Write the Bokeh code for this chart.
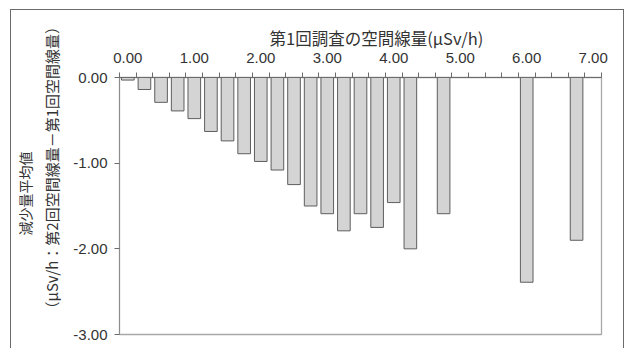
from bokeh.plotting import figure
from bokeh.models import (Range1d, FixedTicker, NumeralTickFormatter, Title,
                          ColumnDataSource)
from bokeh.embed import file_html
from bokeh.resources import INLINE

# ---- data ----
bin_centers = [0.00, 0.25, 0.50, 0.75, 1.00, 1.25, 1.50, 1.75, 2.00, 2.25,
               2.50, 2.75, 3.00, 3.25, 3.50, 3.75, 4.00, 4.25, 4.75, 6.00, 6.75]
decrease = [-0.03, -0.14, -0.29, -0.39, -0.48, -0.63, -0.74, -0.89, -0.98, -1.08,
            -1.25, -1.50, -1.59, -1.79, -1.59, -1.75, -1.46, -2.00, -1.59, -2.39, -1.90]
x_major = [0, 1, 2, 3, 4, 5, 6, 7]
y_major = [0, -1, -2, -3]
x_title = "第1回調査の空間線量(μSv/h)"
y_title1 = "減少量平均値"
y_title2 = "（μSv/h：第2回空間線量－第1回空間線量）"

# ---- layout ----
W, H = 614, 339
x0, x1 = -0.125, 7.125
y0, y1 = -3.0, 0.0
FL, FR, FT, FB = 108, 590, 67, 324   # frame edges in canvas px

p = figure(width=W, height=H, output_backend="svg", toolbar_location=None,
           x_range=Range1d(x0, x1), y_range=Range1d(y0, y1),
           x_axis_location="above", min_border=0)
p.min_border_left = FL
p.min_border_right = W - FR
p.min_border_top = FT
p.min_border_bottom = H - FB
p.styles = {"margin-left": "10px", "margin-top": "9px",
            "border-top": "1px solid #6b6b6b", "border-left": "1px solid #6b6b6b",
            "border-right": "1px solid #6b6b6b"}

p.grid.visible = False
p.background_fill_color = "white"
p.border_fill_color = "white"
p.outline_line_color = "#a8a8a8"
p.outline_line_width = 1.3

src = ColumnDataSource(dict(x=bin_centers, top=[0.0] * len(bin_centers), bottom=decrease))
p.vbar(x="x", top="top", bottom="bottom", width=0.19, source=src,
       fill_color="#d4d4d4", line_color="#5e5e5e", line_width=1)

xa = p.xaxis[0]
xa.ticker = FixedTicker(ticks=x_major,
                        minor_ticks=[x0 + 0.25 * i for i in range(30)])
xa.formatter = NumeralTickFormatter(format="0.00")
xa.major_tick_in = 0
xa.major_tick_out = 0
xa.minor_tick_in = 0
xa.minor_tick_out = 5
xa.minor_tick_line_color = "#6b6b6b"
xa.axis_line_color = "#6b6b6b"
xa.major_label_standoff = 10
xa.major_label_text_font = "Liberation Sans"
xa.major_label_text_font_size = "15px"
xa.major_label_text_color = "#333333"

ya = p.yaxis[0]
ya.ticker = FixedTicker(ticks=y_major, minor_ticks=[])
ya.formatter = NumeralTickFormatter(format="0.00")
ya.major_tick_in = 0
ya.major_tick_out = 5
ya.major_tick_line_color = "#6b6b6b"
ya.axis_line_color = "#8c8c8c"
ya.major_label_standoff = 7
ya.major_label_text_font = "Liberation Sans"
ya.major_label_text_font_size = "15px"
ya.major_label_text_color = "#333333"

p.add_layout(Title(text=x_title, align="left", offset=150, standoff=0,
                   text_font="Noto Sans CJK JP", text_font_size="16.5px",
                   text_font_style="normal", text_color="#333333"), "above")
p.add_layout(Title(text=y_title2, align="left", offset=18, standoff=18,
                   text_font="Noto Sans CJK JP", text_font_size="15px",
                   text_font_style="normal", text_color="#333333"), "left")
p.add_layout(Title(text=y_title1, align="left", offset=99, standoff=-11,
                   text_font="Noto Sans CJK JP", text_font_size="14px",
                   text_font_style="normal", text_color="#333333"), "left")

open("out.html", "w").write(file_html(p, INLINE))
